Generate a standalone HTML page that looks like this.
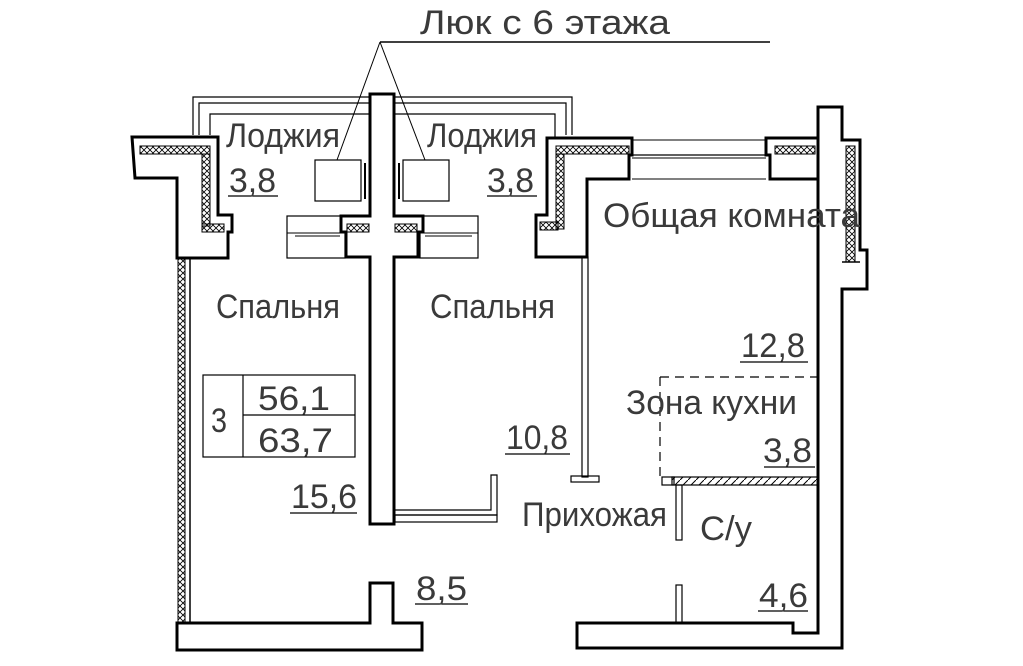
<!DOCTYPE html>
<html><head><meta charset="utf-8"><style>
html,body{margin:0;padding:0;background:#fff;}
svg{display:block}
text{font-family:"Liberation Sans",sans-serif;fill:#3a3a3a;font-size:34px;}
</style></head><body>
<svg width="1023" height="666" viewBox="0 0 1023 666" xmlns="http://www.w3.org/2000/svg">
<defs>
<pattern id="h" width="6" height="6" patternUnits="userSpaceOnUse"><path d="M0 0L6 6M6 0L0 6" stroke="#000" stroke-width="0.8"/></pattern>
<pattern id="d" width="8" height="8" patternUnits="userSpaceOnUse"><path d="M0 8L8 0" stroke="#000" stroke-width="1"/></pattern>
</defs>
<g fill="none" stroke="#000">
<line x1="380" y1="42" x2="770" y2="42" stroke-width="1.5"/>
<line x1="380" y1="42" x2="337" y2="160" stroke-width="1"/>
<line x1="380" y1="42" x2="425" y2="160" stroke-width="1"/>
<path d="M193 135V97H572V135" stroke-width="1.2"/>
<path d="M199 135V103H566V135" stroke-width="1.2"/>
<path d="M210 135V114H555V140" stroke-width="1.2"/>
<rect x="315" y="160" width="46" height="41" stroke-width="1.2"/>
<rect x="403" y="160" width="46" height="41" stroke-width="1.2"/>
<line x1="365" y1="163" x2="365" y2="199" stroke-width="2"/>
<line x1="399" y1="163" x2="399" y2="199" stroke-width="2"/>
<rect x="287" y="216" width="58" height="42" stroke-width="1.2"/>
<line x1="287" y1="233" x2="345" y2="233"/><line x1="295" y1="236" x2="340" y2="236"/>
<rect x="420" y="216" width="58" height="42" stroke-width="1.2"/>
<line x1="420" y1="233" x2="478" y2="233"/><line x1="425" y1="236" x2="472" y2="236"/>
<path d="M370 94H394V216H423V232H418V257H394V524H370V257H346V232H341V216H370Z" fill="#fff" stroke-width="3"/>
<rect x="347" y="224" width="22" height="8" fill="url(#h)" stroke-width="1"/>
<rect x="395" y="224" width="22" height="8" fill="url(#h)" stroke-width="1"/>
<path d="M132 137H218V215H232V232H228V258H177V178H135Z" fill="#fff" stroke-width="3"/>
<rect x="140" y="146" width="70" height="8" fill="url(#h)" stroke-width="1"/>
<rect x="202" y="154" width="8" height="72" fill="url(#h)" stroke-width="1"/>
<rect x="202" y="224" width="22" height="8" fill="url(#h)" stroke-width="1"/>
<rect x="178" y="258" width="7" height="366" fill="url(#h)" stroke-width="1"/>
<line x1="190" y1="258" x2="190" y2="623" stroke-width="1.5"/>
<path d="M177 623H370V583H393V623H422V650H177Z" fill="#fff" stroke-width="3"/>
<path d="M818 107H842V140H860V250H867V289H842V648H577V623H793V633H818Z" fill="#fff" stroke-width="3"/>
<rect x="846" y="146" width="9" height="116" fill="url(#h)" stroke-width="1"/>
<path d="M842 262H860" stroke-width="1.5"/>
<path d="M547 138H632V155H629V179H587V257H536V215H547Z" fill="#fff" stroke-width="3"/>
<rect x="556" y="146" width="73" height="8" fill="url(#h)" stroke-width="1"/>
<rect x="556" y="154" width="8" height="75" fill="url(#h)" stroke-width="1"/>
<rect x="540" y="222" width="18" height="8" fill="url(#h)" stroke-width="1"/>
<path d="M766 138H818V179H770V155H766Z" fill="#fff" stroke-width="3"/>
<rect x="775" y="146" width="40" height="8" fill="url(#h)" stroke-width="1"/>
<line x1="632" y1="140" x2="766" y2="140" stroke-width="1"/>
<line x1="632" y1="155" x2="766" y2="155" stroke-width="1.2"/>
<line x1="632" y1="158" x2="766" y2="158" stroke-width="1"/>
<line x1="632" y1="179" x2="766" y2="179" stroke-width="1"/>
<rect x="582" y="257" width="6" height="220" stroke-width="1.2"/>
<rect x="571" y="476" width="28" height="6" stroke-width="1.2"/>
<path d="M395 515H497V475H491V510H395" stroke-width="1.2"/>
<rect x="395" y="515" width="102" height="7" stroke-width="1.2"/>
<path d="M660 377H818M660 377V477" stroke-width="1.2" stroke-dasharray="9 6"/>
<rect x="672" y="477" width="146" height="8" fill="url(#d)" stroke-width="1.2"/>
<rect x="662" y="477" width="12" height="8" stroke-width="1.2"/>
<rect x="676" y="485" width="6" height="55" stroke-width="1.2"/>
<rect x="676" y="585" width="6" height="38" stroke-width="1.2"/>
<rect x="203" y="375" width="152" height="82" stroke-width="1.2"/>
<line x1="243" y1="375" x2="243" y2="457" stroke-width="1.2"/>
<line x1="243" y1="415" x2="355" y2="415" stroke-width="1.2"/>
<g stroke-width="1.2">
<line x1="228" y1="196" x2="278" y2="196"/><line x1="487" y1="196" x2="537" y2="196"/>
<line x1="740" y1="362" x2="808" y2="362"/><line x1="505" y1="454" x2="570" y2="454"/>
<line x1="290" y1="513" x2="357" y2="513"/><line x1="415" y1="604" x2="468" y2="604"/>
<line x1="758" y1="611" x2="808" y2="611"/><line x1="764" y1="467" x2="815" y2="467"/>
</g>
</g>
<g lengthAdjust="spacingAndGlyphs">
<text x="420" y="34" textLength="250" lengthAdjust="spacingAndGlyphs">Люк с 6 этажа</text>
<text x="226" y="147" textLength="114" lengthAdjust="spacingAndGlyphs">Лоджия</text>
<text x="427" y="147" textLength="110" lengthAdjust="spacingAndGlyphs">Лоджия</text>
<text x="229" y="192" textLength="47" lengthAdjust="spacingAndGlyphs">3,8</text>
<text x="487" y="192" textLength="47" lengthAdjust="spacingAndGlyphs">3,8</text>
<text x="603" y="227" textLength="257" lengthAdjust="spacingAndGlyphs">Общая комната</text>
<text x="216" y="318" textLength="124" lengthAdjust="spacingAndGlyphs">Спальня</text>
<text x="430" y="318" textLength="125" lengthAdjust="spacingAndGlyphs">Спальня</text>
<text x="741" y="357" textLength="64" lengthAdjust="spacingAndGlyphs">12,8</text>
<text x="626" y="414" textLength="171" lengthAdjust="spacingAndGlyphs">Зона кухни</text>
<text x="763" y="462" textLength="49" lengthAdjust="spacingAndGlyphs">3,8</text>
<text x="211" y="432" textLength="16" lengthAdjust="spacingAndGlyphs">3</text>
<text x="258" y="410" textLength="72" lengthAdjust="spacingAndGlyphs">56,1</text>
<text x="258" y="452" textLength="75" lengthAdjust="spacingAndGlyphs">63,7</text>
<text x="506" y="449" textLength="62" lengthAdjust="spacingAndGlyphs">10,8</text>
<text x="291" y="508" textLength="66" lengthAdjust="spacingAndGlyphs">15,6</text>
<text x="522" y="526" textLength="145" lengthAdjust="spacingAndGlyphs">Прихожая</text>
<text x="700" y="540" textLength="52" lengthAdjust="spacingAndGlyphs">С/у</text>
<text x="416" y="600" textLength="51" lengthAdjust="spacingAndGlyphs">8,5</text>
<text x="759" y="607" textLength="49" lengthAdjust="spacingAndGlyphs">4,6</text>
</g>
</svg>
</body></html>
